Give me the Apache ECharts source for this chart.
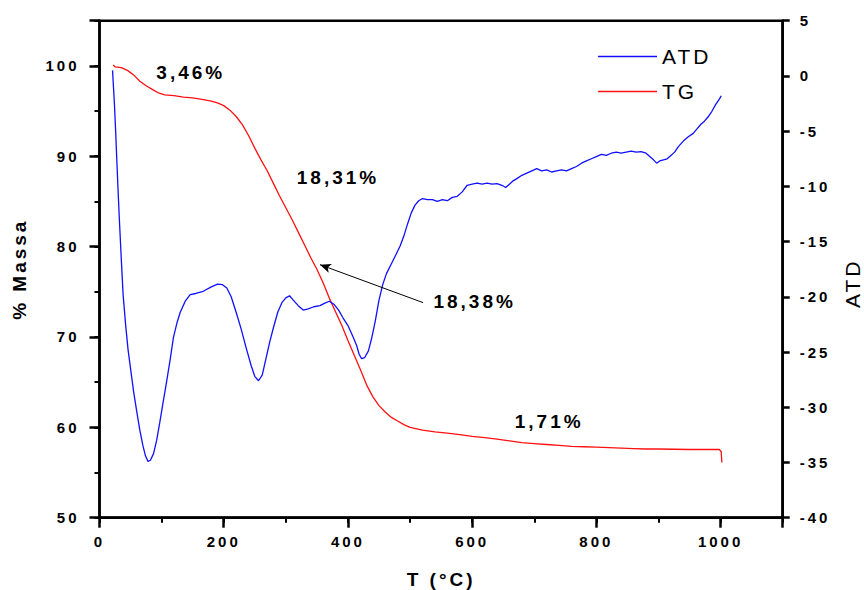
<!DOCTYPE html>
<html>
<head>
<meta charset="utf-8">
<script src="https://cdn.jsdelivr.net/npm/echarts@6/dist/echarts.min.js"></script>
<style>
html,body{margin:0;padding:0;background:#fff;}
#chart{width:864px;height:590px;}
#chart text{letter-spacing:3px;}
</style>
</head>
<body>
<div id="chart"></div>
<script>
// ---- data (T in °C) ----
var tgT = [22,25,35,45,55,65,75,85,95,105,120,135,150,165,180,190,200,210,220,230,240,250,260,270,280,290,300,310,320,330,340,350,360,370,380,390,400,410,420,430,440,450,460,470,480,490,500,520,540,560,580,600,620,640,660,680,700,720,740,760,780,800,820,840,860,880,900,950,998,1001,1002];
var tgMass = [100.1,99.9,99.8,99.5,99.0,98.3,97.8,97.4,97.0,96.8,96.7,96.55,96.45,96.3,96.1,95.9,95.6,95.1,94.4,93.5,92.3,90.9,89.6,88.4,87.0,85.6,84.3,83.0,81.6,80.2,78.8,77.5,76.0,74.3,72.8,71.3,69.6,68.0,66.4,64.7,63.4,62.4,61.7,61.1,60.7,60.3,60.0,59.7,59.5,59.35,59.2,59.0,58.85,58.7,58.5,58.3,58.2,58.1,58.0,57.9,57.85,57.8,57.75,57.7,57.65,57.6,57.6,57.55,57.55,57.3,56.1];

var atdT = [21,22,24,26,28,30,32,35,38,42,46,50,55,60,65,70,74,78,82,87,92,97,102,108,114,119,125,130,138,146,155,167,180,190,198,205,212,220,228,236,244,250,256,262,268,274,280,287,294,300,306,312,320,328,336,345,355,362,370,378,385,392,400,408,414,418,422,427,433,438,444,450,456,462,470,478,484,490,496,502,508,514,520,528,536,544,552,560,568,576,584,592,600,608,616,624,632,640,648,654,660,666,672,680,688,696,704,712,720,728,736,744,752,760,768,776,784,792,800,808,816,824,832,840,848,856,864,872,880,886,892,897,902,908,914,920,926,932,940,948,956,962,968,974,980,986,992,998,1001];
var atdVal = [0.5,-0.5,-2.5,-5,-7.8,-10.5,-13,-16.5,-19.8,-22.5,-24.8,-26.5,-28.6,-30.4,-32.1,-33.5,-34.4,-34.9,-34.8,-34.2,-33.0,-31.4,-29.7,-27.7,-25.6,-23.7,-22.3,-21.4,-20.4,-19.8,-19.7,-19.5,-19.1,-18.85,-18.9,-19.2,-20.0,-21.4,-22.9,-24.6,-26.2,-27.2,-27.6,-27.1,-25.6,-24.1,-22.8,-21.4,-20.5,-20.1,-19.9,-20.3,-20.8,-21.2,-21.1,-20.9,-20.8,-20.6,-20.4,-20.7,-21.2,-21.9,-22.6,-23.6,-24.4,-25.2,-25.6,-25.5,-24.9,-23.8,-22.2,-20.3,-18.9,-17.9,-17.0,-16.1,-15.4,-14.5,-13.4,-12.4,-11.7,-11.3,-11.1,-11.2,-11.2,-11.35,-11.2,-11.3,-11.0,-10.9,-10.5,-9.9,-9.8,-9.7,-9.8,-9.7,-9.8,-9.75,-9.9,-10.1,-9.8,-9.5,-9.3,-9.0,-8.8,-8.6,-8.4,-8.6,-8.5,-8.7,-8.6,-8.5,-8.6,-8.4,-8.2,-7.9,-7.7,-7.5,-7.3,-7.1,-7.2,-7.0,-6.9,-7.0,-6.9,-6.8,-6.9,-6.85,-7.0,-7.3,-7.6,-7.9,-7.7,-7.6,-7.5,-7.2,-6.9,-6.4,-5.9,-5.5,-5.2,-4.8,-4.4,-4.1,-3.7,-3.2,-2.6,-2.1,-1.8];

var xTicks = [0,200,400,600,800,1000];
var leftTicks = [50,60,70,80,90,100];
var rightTicks = [-40,-35,-30,-25,-20,-15,-10,-5,0,5];

var annoText = ['3,46%','18,31%','18,38%','1,71%'];
var annoT = [147,384,604,724];
var annoMass = [99.3,87.6,73.9,60.7];
var arrowFrom = [521,73.8];
var arrowTo = [355,78.0];

var tgData = tgT.map(function(t,i){return [t,tgMass[i]];});
var atdData = atdT.map(function(t,i){return [t,atdVal[i]];});

var FONT = '"Liberation Sans", Arial, sans-serif';
var chart = echarts.init(document.getElementById('chart'), null, {renderer:'svg'});

var tickLbl = {fontFamily:FONT, fontWeight:'bold', fontSize:15, color:'#000'};

var option = {
  animation:false,
  backgroundColor:'#fff',
  grid:{left:99.5, right:81.3, top:20.7, bottom:72.3, containLabel:false, outerBoundsMode:'none',
        show:true, borderColor:'#000', borderWidth:2.5, backgroundColor:'transparent'},
  legend:{
    orient:'vertical', left:593, top:41, icon:'rect', itemWidth:59, itemHeight:1.5, itemGap:14,
    data:['ATD','TG'],
    textStyle:{fontFamily:FONT, fontSize:21, color:'#000'}
  },
  xAxis:[
    {type:'value', min:0, max:1100, interval:200,
     name:'T (°C)', nameLocation:'middle', nameGap:52,
     nameTextStyle:{fontFamily:FONT, fontWeight:'bold', fontSize:19, color:'#000'},
     axisLine:{show:true, onZero:false, lineStyle:{color:'#000', width:2.5}},
     axisTick:{show:true, length:10, lineStyle:{color:'#000', width:2.5}},
     axisLabel:Object.assign({margin:16, formatter:function(v){return xTicks.indexOf(v)>=0 ? String(v) : '';}}, tickLbl),
     splitLine:{show:false}},
    {type:'value', min:0, max:1100, interval:100, position:'bottom',
     axisLine:{show:false, onZero:false}, axisTick:{show:true, length:5, lineStyle:{color:'#000', width:2}},
     axisLabel:{show:false}, splitLine:{show:false}}
  ],
  yAxis:[
    {type:'value', min:50, max:105, interval:10, position:'left',
     name:'% Massa', nameLocation:'middle', nameGap:71, nameRotate:90,
     nameTextStyle:{fontFamily:FONT, fontWeight:'bold', fontSize:19, color:'#000'},
     axisLine:{show:true, onZero:false, lineStyle:{color:'#000', width:2.5}},
     axisTick:{show:true, length:10, lineStyle:{color:'#000', width:2.5}},
     axisLabel:Object.assign({margin:20, formatter:function(v){return leftTicks.indexOf(v)>=0 ? String(v) : '';}}, tickLbl),
     splitLine:{show:false}},
    {type:'value', min:50, max:105, interval:5, position:'left',
     axisLine:{show:false, onZero:false}, axisTick:{show:true, length:5, lineStyle:{color:'#000', width:2}},
     axisLabel:{show:false}, splitLine:{show:false}},
    {type:'value', min:-40, max:5, interval:5, position:'right',
     name:'ATD', nameLocation:'middle', nameGap:59, nameRotate:90,
     nameTextStyle:{fontFamily:FONT, fontSize:21, color:'#000', padding:[0,28,0,0]},
     axisLine:{show:true, onZero:false, lineStyle:{color:'#000', width:2.5}},
     axisTick:{show:true, length:7, lineStyle:{color:'#000', width:2.5}},
     axisLabel:Object.assign({margin:17, formatter:function(v){return rightTicks.indexOf(v)>=0 ? String(v) : '';}}, tickLbl),
     splitLine:{show:false}}
  ],
  series:[
    {name:'ATD', type:'line', xAxisIndex:0, yAxisIndex:2, data:atdData,
     symbol:'none', showSymbol:false, lineStyle:{color:'#1010ff', width:1.3}, itemStyle:{color:'#1010ff'}, z:3},
    {name:'TG', type:'line', xAxisIndex:0, yAxisIndex:0, data:tgData,
     symbol:'none', showSymbol:false, lineStyle:{color:'#ff1010', width:1.3}, itemStyle:{color:'#ff1010'}, z:2,
     markLine:{silent:true, symbol:['none','arrow'], symbolSize:[7,11], label:{show:false},
       lineStyle:{color:'#000', width:1, type:'solid'},
       data:[[{coord:arrowFrom},{coord:arrowTo}]]}}
  ]
};
chart.setOption(option);

var g = annoText.map(function(t,i){
  var p = chart.convertToPixel({xAxisIndex:0, yAxisIndex:0}, [annoT[i], annoMass[i]]);
  return {type:'text', x:p[0], y:p[1], z:10,
    style:{text:t, fill:'#000', font:'bold 19px '+FONT, textAlign:'center', textVerticalAlign:'middle'}};
});
chart.setOption({graphic:g});
</script>
</body>
</html>
